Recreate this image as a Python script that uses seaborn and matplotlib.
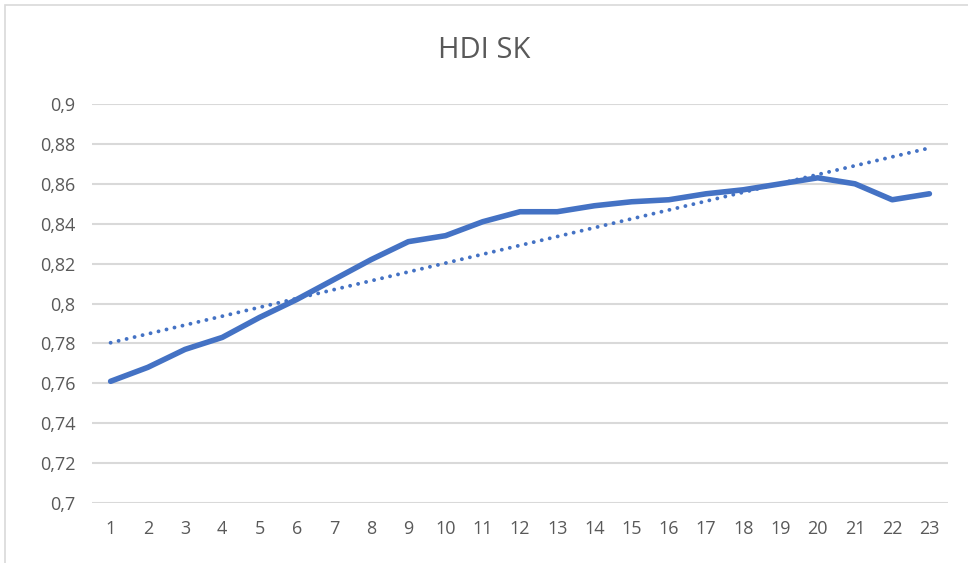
import numpy as np
import pandas as pd
import matplotlib
matplotlib.use('Agg')
import matplotlib.pyplot as plt
import matplotlib.ticker as mticker
from matplotlib.patches import Rectangle
import seaborn as sns

# values
years = list(range(1, 24))
hdi = [0.761, 0.768, 0.777, 0.783, 0.793, 0.802, 0.812, 0.822, 0.831, 0.834,
       0.841, 0.846, 0.846, 0.849, 0.851, 0.852, 0.855, 0.857, 0.860, 0.863,
       0.860, 0.852, 0.855]
title = 'HDI SK'

df = pd.DataFrame({'x': years, 'hdi': hdi})
# linear trendline like Excel
k, q = np.polyfit(df['x'], df['hdi'], 1)
df['trend'] = k * df['x'] + q

sns.set_style('white')
plt.rcParams['font.family'] = ['Open Sans', 'DejaVu Sans']

fig = plt.figure(figsize=(9.68, 5.63), dpi=100)
ax = fig.add_axes([92 / 968, 1 - 503 / 563, (948 - 92) / 968, (503 - 104) / 563])

blue = '#4472C4'
grey_txt = '#595959'

sns.lineplot(data=df, x='x', y='hdi', ax=ax, color=blue, linewidth=4,
             solid_capstyle='round', solid_joinstyle='round', zorder=3)
ax.plot(df['x'], df['trend'], color=blue, linewidth=2.8,
        linestyle=(0, (0.01, 2.1)), dash_capstyle='round', zorder=2)

ax.set_xlim(0.5, 23.5)
ax.set_ylim(0.7, 0.9)
ax.set_xticks(years)
ax.set_yticks(np.arange(0.70, 0.9001, 0.02))
ax.yaxis.set_major_formatter(mticker.FuncFormatter(
    lambda v, p: ('%g' % round(v, 2)).replace('.', ',')))
ax.grid(axis='y', color='#d9d9d9', linewidth=1.5)
ax.set_axisbelow(True)
for s in ax.spines.values():
    s.set_visible(False)
ax.tick_params(axis='both', length=0, labelsize=13, colors=grey_txt)
ax.tick_params(axis='x', pad=12)
ax.tick_params(axis='y', pad=12)
ax.set_xlabel('')
ax.set_ylabel('')

fig.text(0.5, 1 - 50 / 563, title, ha='center', va='center',
         fontsize=21, color=grey_txt)

# chart border (cut at the right and bottom)
fig.patches.append(Rectangle((5 / 968, -0.1), 1.2, 1.1 - 5 / 563,
                             transform=fig.transFigure, fill=False,
                             edgecolor='#d9d9d9', linewidth=1.2))

fig.savefig('out.png', dpi=100)
